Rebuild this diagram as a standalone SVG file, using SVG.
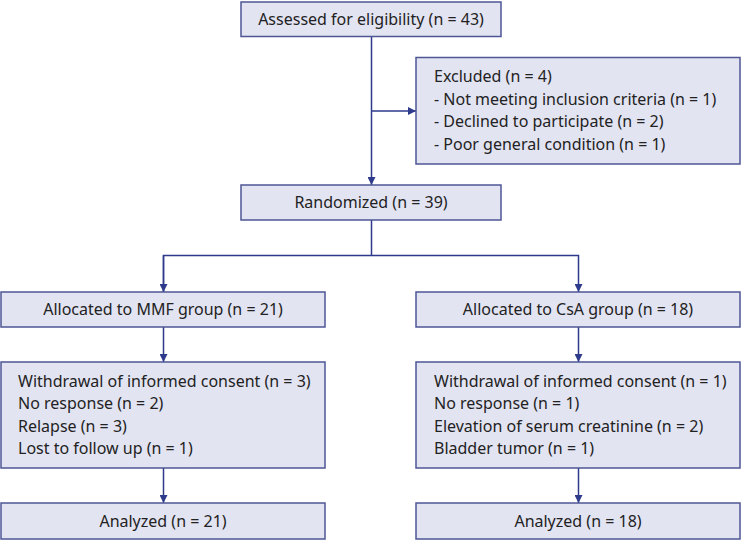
<svg xmlns="http://www.w3.org/2000/svg" width="742" height="541" viewBox="0 0 742 541">
<defs>
<style>
.box{fill:#e2e4f2;stroke:#4e5695;stroke-width:1.5}
.t{font-family:"Noto Sans","Liberation Sans",sans-serif;font-size:16px;fill:#222}
.c{text-anchor:middle}
.ln{fill:none;stroke:#2e3a8c;stroke-width:1.5}
</style>
<marker id="ah" viewBox="0 0 10 10" refX="10" refY="5" markerWidth="8" markerHeight="8" orient="auto" markerUnits="userSpaceOnUse">
<path d="M0,0 L10,5 L0,10 z" fill="#2e3a8c"/>
</marker>
</defs>
<rect width="742" height="541" fill="#fff"/>
<g id="connectors">
<line class="ln" x1="371.5" y1="36" x2="371.5" y2="185" marker-end="url(#ah)"/>
<line class="ln" x1="371.5" y1="111" x2="416" y2="111" marker-end="url(#ah)"/>
<polyline class="ln" points="371.5,220 371.5,255.5"/>
<polyline class="ln" points="163.5,292 163.5,255.5 578.5,255.5 578.5,292" marker-end="url(#ah)"/>
<line class="ln" x1="163.5" y1="255.5" x2="163.5" y2="292" marker-end="url(#ah)"/>
<line class="ln" x1="163.5" y1="327" x2="163.5" y2="362" marker-end="url(#ah)"/>
<line class="ln" x1="578.5" y1="327" x2="578.5" y2="362" marker-end="url(#ah)"/>
<line class="ln" x1="163.5" y1="468" x2="163.5" y2="503" marker-end="url(#ah)"/>
<line class="ln" x1="578.5" y1="468" x2="578.5" y2="503" marker-end="url(#ah)"/>
</g>
<g id="assessed">
<rect class="box" x="241" y="2" width="260" height="34.5"/>
<text class="t c" x="371" y="24.5">Assessed for eligibility (n = 43)</text>
</g>
<g id="excluded">
<rect class="box" x="416" y="57.5" width="324" height="106.5"/>
<text class="t" x="434" y="82">Excluded (n = 4)</text>
<text class="t" x="434" y="104.5">- Not meeting inclusion criteria (n = 1)</text>
<text class="t" x="434" y="127">- Declined to participate (n = 2)</text>
<text class="t" x="434" y="149.5">- Poor general condition (n = 1)</text>
</g>
<g id="randomized">
<rect class="box" x="241" y="185" width="260" height="35"/>
<text class="t c" x="371" y="207.5">Randomized (n = 39)</text>
</g>
<g id="mmf">
<rect class="box" x="1" y="292" width="324" height="35"/>
<text class="t c" x="163" y="315">Allocated to MMF group (n = 21)</text>
</g>
<g id="csa">
<rect class="box" x="416" y="292" width="324" height="35"/>
<text class="t c" x="578" y="315">Allocated to CsA group (n = 18)</text>
</g>
<g id="mmf-withdraw">
<rect class="box" x="1" y="362" width="324" height="106"/>
<text class="t" x="18" y="386.5">Withdrawal of informed consent (n = 3)</text>
<text class="t" x="18" y="409">No response (n = 2)</text>
<text class="t" x="18" y="431.5">Relapse (n = 3)</text>
<text class="t" x="18" y="454">Lost to follow up (n = 1)</text>
</g>
<g id="csa-withdraw">
<rect class="box" x="416" y="362" width="324" height="106"/>
<text class="t" x="434" y="386.5">Withdrawal of informed consent (n = 1)</text>
<text class="t" x="434" y="409">No response (n = 1)</text>
<text class="t" x="434" y="431.5">Elevation of serum creatinine (n = 2)</text>
<text class="t" x="434" y="454">Bladder tumor (n = 1)</text>
</g>
<g id="mmf-analyzed">
<rect class="box" x="1" y="503" width="324" height="36"/>
<text class="t c" x="163" y="526.5">Analyzed (n = 21)</text>
</g>
<g id="csa-analyzed">
<rect class="box" x="416" y="503" width="324" height="36"/>
<text class="t c" x="578" y="526.5">Analyzed (n = 18)</text>
</g>
</svg>
